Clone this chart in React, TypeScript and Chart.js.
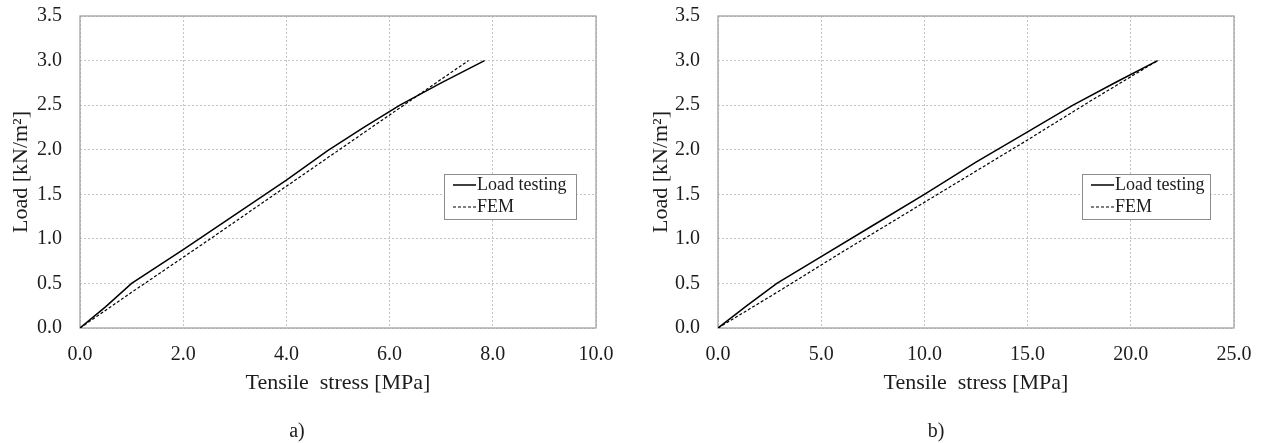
import React, { useEffect, useRef } from "react";
import { Chart, registerables } from "chart.js";

Chart.register(...registerables);

// ---- Data ----
const seriesNames = ["Load testing", "FEM"];

// Panel a)
const stressA_test = [0, 0.5, 1.0, 2.0, 3.0, 4.0, 4.8, 5.5, 6.2, 7.0, 7.84];
const loadA_test = [0, 0.24, 0.5, 0.88, 1.27, 1.66, 1.99, 2.25, 2.5, 2.75, 3.0];
const stressA_fem = [0, 1.0, 2.5, 4.0, 5.5, 7.0, 7.53];
const loadA_fem = [0, 0.4, 0.99, 1.59, 2.19, 2.79, 3.0];

// Panel b)
const stressB_test = [0, 1.4, 2.85, 5.0, 7.5, 10.0, 12.5, 15.0, 17.2, 19.3, 21.3];
const loadB_test = [0, 0.25, 0.5, 0.8, 1.15, 1.5, 1.86, 2.2, 2.5, 2.76, 3.0];
const stressB_fem = [0, 3.0, 6.0, 9.0, 12.0, 15.0, 18.0, 21.3];
const loadB_fem = [0, 0.42, 0.85, 1.27, 1.69, 2.11, 2.54, 3.0];

// Ticks
const yTicks = [0, 0.5, 1.0, 1.5, 2.0, 2.5, 3.0, 3.5];
const xTicksA = [0, 2, 4, 6, 8, 10];
const xTicksB = [0, 5, 10, 15, 20, 25];

const xTitle = "Tensile  stress [MPa]";
const yTitle = "Load [kN/m²]";
const panelLabels = ["a)", "b)"];

const FONT = "'Liberation Serif', 'Times New Roman', serif";
const TEXT = "#1c1c1c";

const toXY = (xs: number[], ys: number[]) => xs.map((x, i) => ({ x, y: ys[i] }));

const frameAndLegend = {
  id: "frameAndLegend",
  beforeDatasetsDraw(chart: any) {
    const { ctx, chartArea } = chart;
    ctx.save();
    ctx.strokeStyle = "#a3a3a3";
    ctx.lineWidth = 1.3;
    ctx.setLineDash([]);
    ctx.strokeRect(chartArea.left, chartArea.top, chartArea.right - chartArea.left, chartArea.bottom - chartArea.top);
    ctx.restore();
  },
  afterDatasetsDraw(chart: any, _args: any, opts: any) {
    const { ctx, chartArea } = chart;
    const bx = chartArea.left + opts.x;
    const by = chartArea.top + opts.y;
    ctx.save();
    ctx.fillStyle = "#ffffff";
    ctx.fillRect(bx, by, opts.w, opts.h);
    ctx.strokeStyle = "#8c8c8c";
    ctx.lineWidth = 1;
    ctx.setLineDash([]);
    ctx.strokeRect(bx + 0.5, by + 0.5, opts.w, opts.h);
    ctx.font = `18px ${FONT}`;
    ctx.textBaseline = "middle";
    ctx.fillStyle = TEXT;
    chart.data.datasets.forEach((ds: any, i: number) => {
      const ly = by + 11 + i * 22;
      ctx.strokeStyle = ds.borderColor;
      ctx.lineWidth = ds.borderWidth;
      ctx.setLineDash(ds.borderDash || []);
      ctx.beginPath();
      ctx.moveTo(bx + 9, ly);
      ctx.lineTo(bx + 32, ly);
      ctx.stroke();
      ctx.setLineDash([]);
      ctx.fillText(ds.label, bx + 33, ly);
    });
    ctx.restore();
  },
};

function makeConfig(
  test: { x: number; y: number }[],
  fem: { x: number; y: number }[],
  xTicks: number[],
  xMax: number,
  yAxisWidth: number,
  yTitlePad: number,
  padRight: number,
  legendW: number
): any {
  return {
    type: "line",
    data: {
      datasets: [
        {
          label: seriesNames[0],
          data: test,
          borderColor: "#000000",
          borderWidth: 1.5,
          pointRadius: 0,
          fill: false,
          tension: 0,
        },
        {
          label: seriesNames[1],
          data: fem,
          borderColor: "#000000",
          borderWidth: 1.2,
          borderDash: [3, 2],
          pointRadius: 0,
          fill: false,
          tension: 0,
        },
      ],
    },
    options: {
      animation: false,
      responsive: false,
      maintainAspectRatio: false,
      layout: { padding: { left: 0, top: 16, right: padRight, bottom: 0 } },
      plugins: {
        legend: { display: false },
        tooltip: { enabled: false },
        frameAndLegend: { x: 364, y: 158, w: legendW, h: 45 },
      },
      scales: {
        x: {
          type: "linear",
          min: 0,
          max: xMax,
          afterBuildTicks: (s: any) => {
            s.ticks = xTicks.map((v) => ({ value: v }));
          },
          afterFit: (s: any) => {
            s.height = 115;
            s.paddingLeft = 0;
            s.paddingRight = 0;
            s.paddingTop = 0;
            s.paddingBottom = 0;
          },
          ticks: {
            callback: (v: any) => Number(v).toFixed(1),
            font: { family: FONT, size: 20 },
            color: TEXT,
            padding: 15,
            maxRotation: 0,
            autoSkip: false,
          },
          grid: { color: "#c4c4c4", lineWidth: 1, drawTicks: false },
          border: { display: false, dash: [2, 2] },
          title: {
            display: true,
            text: xTitle,
            font: { family: FONT, size: 22 },
            color: TEXT,
            padding: { top: 0, bottom: 47 },
          },
        },
        y: {
          type: "linear",
          min: 0,
          max: 3.5,
          afterBuildTicks: (s: any) => {
            s.ticks = yTicks.map((v) => ({ value: v }));
          },
          afterFit: (s: any) => {
            s.width = yAxisWidth;
            s.paddingLeft = 0;
            s.paddingRight = 0;
            s.paddingTop = 0;
            s.paddingBottom = 0;
          },
          ticks: {
            callback: (v: any) => Number(v).toFixed(1),
            font: { family: FONT, size: 20 },
            color: TEXT,
            padding: 18,
            autoSkip: false,
          },
          grid: { color: "#c4c4c4", lineWidth: 1, drawTicks: false },
          border: { display: false, dash: [2, 2] },
          title: {
            display: true,
            text: yTitle,
            font: { family: FONT, size: 22 },
            color: TEXT,
            padding: { top: yTitlePad, bottom: 0 },
          },
        },
      },
    },
    plugins: [frameAndLegend],
  };
}

function Panel(props: { left: number; width: number; config: any; label: string; labelX: number }) {
  const ref = useRef<HTMLCanvasElement>(null);
  useEffect(() => {
    if (!ref.current) return;
    const chart = new Chart(ref.current, props.config);
    return () => chart.destroy();
  }, []);
  return (
    <>
      <canvas
        ref={ref}
        width={props.width}
        height={443}
        style={{ position: "absolute", left: props.left, top: 0, width: props.width, height: 443 }}
      />
      <div
        style={{
          position: "absolute",
          left: props.labelX - 30,
          top: 418,
          width: 60,
          textAlign: "center",
          font: `20px ${FONT}`,
          lineHeight: "24px",
          color: TEXT,
        }}
      >
        {props.label}
      </div>
    </>
  );
}

export default function App() {
  const cfgA = makeConfig(toXY(stressA_test, loadA_test), toXY(stressA_fem, loadA_fem), xTicksA, 10, 80, 8, 34, 132);
  const cfgB = makeConfig(toXY(stressB_test, loadB_test), toXY(stressB_fem, loadB_fem), xTicksB, 25, 88, 18, 31, 128);
  return (
    <div style={{ position: "absolute", left: 0, top: 0, width: 1265, height: 443, background: "#fff" }}>
      <Panel left={0} width={630} config={cfgA} label={panelLabels[0]} labelX={297} />
      <Panel left={630} width={635} config={cfgB} label={panelLabels[1]} labelX={936} />
    </div>
  );
}
